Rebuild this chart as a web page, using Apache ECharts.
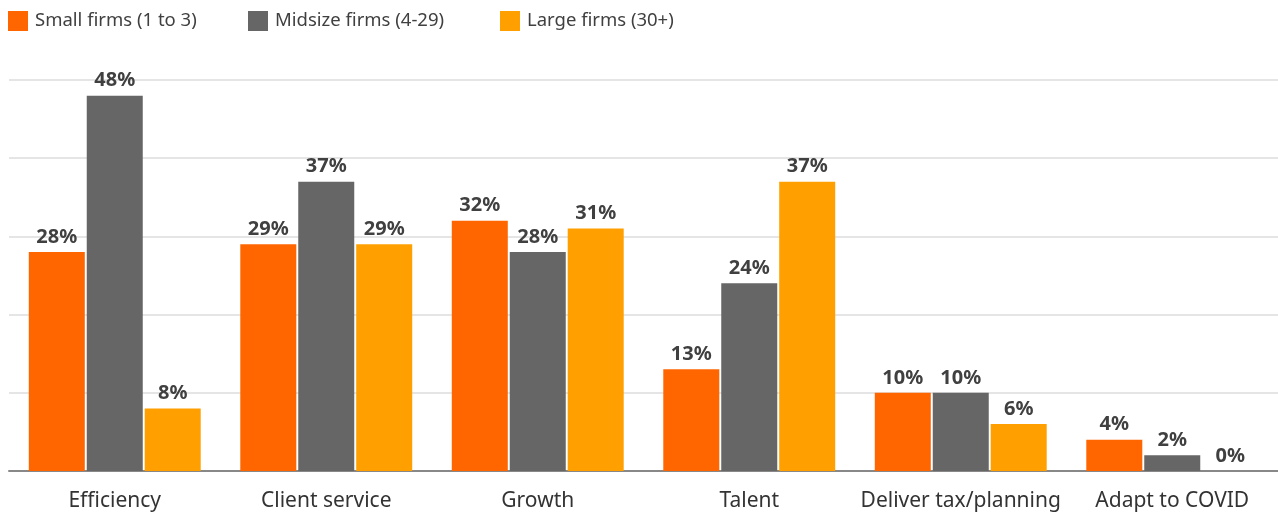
<!DOCTYPE html>
<html>
<head>
<meta charset="utf-8">
<script src="https://cdn.jsdelivr.net/npm/echarts@6/dist/echarts.min.js"></script>
<style>
  html, body { margin: 0; padding: 0; background: #fff; }
  #chart { width: 1278px; height: 512px; }
</style>
</head>
<body>
<div id="chart"></div>
<script>
const categories = ['Efficiency', 'Client service', 'Growth', 'Talent', 'Deliver tax/planning', 'Adapt to COVID'];
const seriesNames = ['Small firms (1 to 3)', 'Midsize firms (4-29)', 'Large firms (30+)'];
const smallFirms = [28, 29, 32, 13, 10, 4];
const midsizeFirms = [48, 37, 28, 24, 10, 2];
const largeFirms = [8, 29, 31, 37, 6, 0];
const colors = ['#ff6600', '#666666', '#ffa000'];

const FONT = '"Noto Sans", sans-serif';
const chart = echarts.init(document.getElementById('chart'), null, { renderer: 'canvas' });

const makeSeries = (name, data, color) => ({
  name,
  type: 'bar',
  data,
  barWidth: 56,
  barGap: '3.5%',
  itemStyle: { color },
  label: {
    show: true,
    position: 'top',
    distance: 5,
    formatter: '{c}%',
    color: '#404040',
    fontFamily: FONT,
    fontWeight: 'bold',
    fontSize: 20
  }
});

// one legend block per series, placed along the top row
const legendLefts = [8, 248, 500];
const makeLegend = (name, left) => ({
  left,
  top: 11,
  padding: 0,
  itemWidth: 20,
  itemHeight: 20,
  icon: 'rect',
  textStyle: { color: '#404040', fontFamily: FONT, fontSize: 18.5, padding: [0, 0, 0, 2] },
  data: [name]
});

chart.setOption({
  animation: false,
  backgroundColor: '#ffffff',
  color: colors,
  legend: seriesNames.map((name, i) => makeLegend(name, legendLefts[i])),
  grid: { left: 9, right: -2, top: 80, bottom: 41, containLabel: false },
  xAxis: {
    type: 'category',
    data: categories,
    axisLine: { lineStyle: { color: '#888888', width: 2 } },
    axisTick: { show: false },
    axisLabel: { color: '#333333', fontFamily: FONT, fontSize: 21, margin: 20, interval: 0 }
  },
  yAxis: {
    type: 'value',
    min: 0,
    max: 50,
    interval: 10,
    axisLabel: { show: false },
    axisLine: { show: false },
    axisTick: { show: false },
    splitLine: { lineStyle: { color: '#dddddd', width: 1.5 } }
  },
  series: [
    makeSeries(seriesNames[0], smallFirms, colors[0]),
    makeSeries(seriesNames[1], midsizeFirms, colors[1]),
    makeSeries(seriesNames[2], largeFirms, colors[2])
  ]
});
</script>
</body>
</html>
